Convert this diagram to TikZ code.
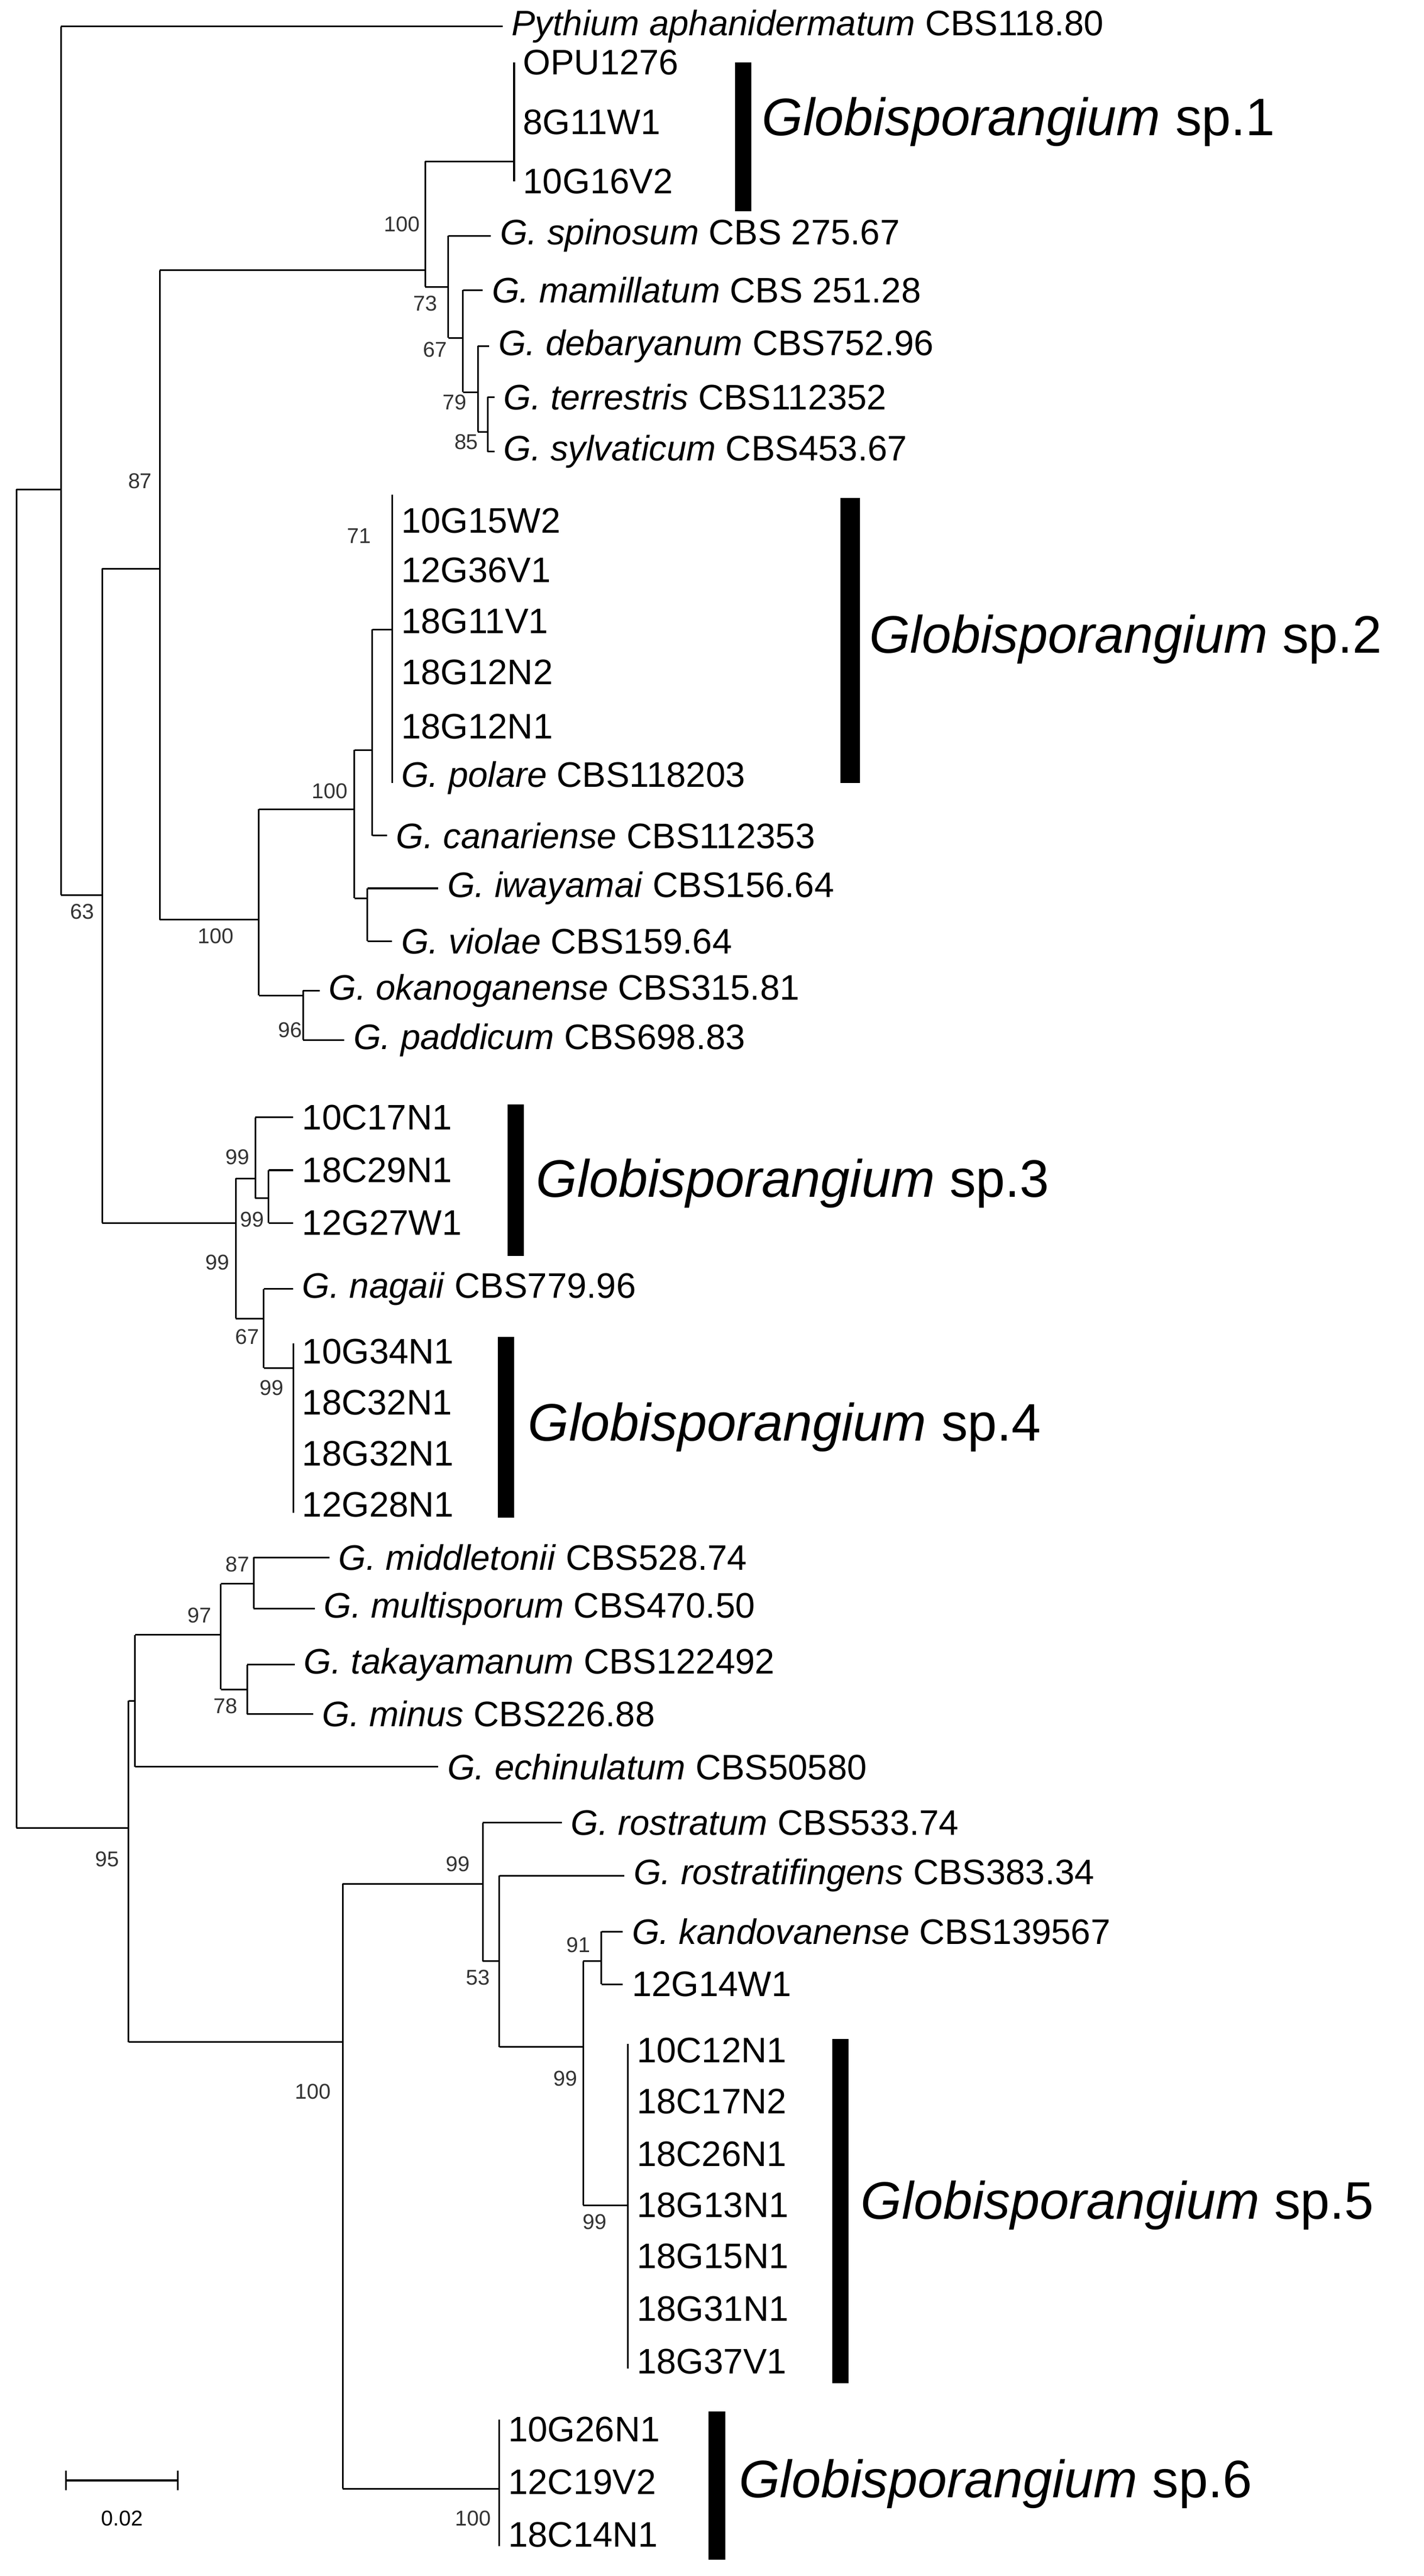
\documentclass[tikz,border=0pt]{standalone}
\usepackage{fontspec}
\setmainfont{Liberation Sans}
\begin{document}
\begin{tikzpicture}[x=1pt,y=-1pt,line width=1pt,
  leaf/.style={anchor=west,inner sep=0pt,inner xsep=5pt,font=\fontsize{21.5}{21.5}\selectfont},
  bs/.style={inner sep=0pt,font=\fontsize{13}{13}\selectfont,text=black!80},
  grp/.style={anchor=west,inner sep=0pt,font=\fontsize{32}{32}\selectfont}]
\useasboundingbox (0,0) rectangle (864,1563);
\newcommand\lf[4]{\node[leaf] (#1) at (#2,#3) {#4};}
\newcommand\vl[3]{\draw (#1,#2) -- (#1,#3);}
\newcommand\hl[3]{\draw (#1,#3) -- (#2,#3);}
% root
\vl{10}{297}{1109}
\hl{10}{37}{297}
\vl{37}{16}{543}
\lf{py}{305}{16}{\textit{Pythium aphanidermatum} CBS118.80}
\draw (37,16) -- (py.west);
\hl{37}{62}{543} \node[bs] at (50,553) {63};
\vl{62}{345}{742} \node[bs] at (85,292) {87};
\hl{62}{97}{345}
\vl{97}{164}{558}
% F clade
\hl{97}{258}{164} \vl{258}{98}{174}
\node[bs] at (244,136) {100}; \node[bs] at (258,184) {73};
\hl{258}{312}{98} \vl{312}{38}{110}
\lf{a1}{312}{38}{OPU1276}\lf{a2}{312}{74}{8G11W1}\lf{a3}{312}{110}{10G16V2}
\hl{258}{272}{174} \vl{272}{143}{205}
\lf{spi}{298}{143}{\textit{G. spinosum} CBS 275.67} \draw (272,143) -- (spi.west);
\node[bs] at (264,212) {67};
\hl{272}{281}{205} \vl{281}{176}{238}
\lf{mam}{293}{176}{\textit{G. mamillatum} CBS 251.28} \draw (281,176) -- (mam.west);
\node[bs] at (276,244) {79};
\hl{281}{290}{238} \vl{290}{210}{262}
\lf{deb}{297}{210}{\textit{G. debaryanum} CBS752.96} \draw (290,210) -- (deb.west);
\hl{290}{296}{262} \vl{296}{241}{274}
\node[bs] at (283,268) {85};
\lf{ter}{300}{241}{\textit{G. terrestris} CBS112352}\lf{syl}{300}{274}{\textit{G. sylvaticum} CBS453.67}
\draw (296,241) -- (ter.west); \draw (296,274) -- (syl.west);
% G clade
\hl{97}{157}{558} \vl{157}{491}{604} \node[bs] at (131,568) {100};
\hl{157}{215}{491} \vl{215}{455}{545} \node[bs] at (200,480) {100};
\hl{215}{226}{455} \vl{226}{382}{507} \node[bs] at (218,325) {71};
\hl{226}{238}{382} \vl{238}{300}{475}
\lf{b1}{238}{316}{10G15W2}\lf{b2}{238}{346}{12G36V1}\lf{b3}{238}{377}{18G11V1}
\lf{b4}{238}{408}{18G12N2}\lf{b5}{238}{441}{18G12N1}\lf{b6}{238}{472}{\textit{G. polare} CBS118203}
\lf{can}{235}{507}{\textit{G. canariense} CBS112353} \draw (226,507) -- (can.west);
\hl{215}{223}{545} \vl{223}{539}{571}
\lf{iwa}{266}{539}{\textit{G. iwayamai} CBS156.64} \draw (223,539) -- (iwa.west);
\lf{vio}{238}{571}{\textit{G. violae} CBS159.64} \draw (223,571) -- (vio.west);
\hl{157}{184}{604} \vl{184}{601}{631} \node[bs] at (176,625) {96};
\lf{oka}{194}{601}{\textit{G. okanoganense} CBS315.81} \draw (184,601) -- (oka.west);
\lf{pad}{209}{631}{\textit{G. paddicum} CBS698.83} \draw (184,631) -- (pad.west);
% sp3/sp4
\hl{62}{143}{742} \vl{143}{715}{800} \node[bs] at (132,766) {99};
\hl{143}{155}{715} \vl{155}{678}{727} \node[bs] at (144,702) {99};
\lf{c1}{178}{678}{10C17N1} \draw (155,678) -- (c1.west);
\hl{155}{163}{727} \vl{163}{710}{742} \node[bs] at (153,740) {99};
\lf{c2}{178}{710}{18C29N1}\lf{c3}{178}{742}{12G27W1}
\draw (163,710) -- (c2.west); \draw (163,742) -- (c3.west);
\hl{143}{160}{800} \vl{160}{782}{830} \node[bs] at (150,811) {67};
\lf{nag}{178}{782}{\textit{G. nagaii} CBS779.96} \draw (160,782) -- (nag.west);
\hl{160}{178}{830} \vl{178}{815}{918} \node[bs] at (165,842) {99};
\lf{d1}{178}{820}{10G34N1}\lf{d2}{178}{851}{18C32N1}\lf{d3}{178}{882}{18G32N1}\lf{d4}{178}{913}{12G28N1}
% lower clade
\hl{10}{78}{1109} \node[bs] at (65,1128) {95};
\vl{78}{1032}{1239}
\hl{78}{82}{1032} \vl{82}{992}{1072}
\lf{ech}{266}{1072}{\textit{G. echinulatum} CBS50580} \draw (82,1072) -- (ech.west);
\hl{82}{134}{992} \vl{134}{961}{1025} \node[bs] at (121,980) {97};
\hl{134}{154}{961} \vl{154}{945}{976} \node[bs] at (144,949) {87};
\lf{mid}{200}{945}{\textit{G. middletonii} CBS528.74} \draw (154,945) -- (mid.west);
\lf{mul}{191}{976}{\textit{G. multisporum} CBS470.50} \draw (154,976) -- (mul.west);
\hl{134}{150}{1025} \vl{150}{1010}{1040} \node[bs] at (137,1035) {78};
\lf{tak}{179}{1010}{\textit{G. takayamanum} CBS122492} \draw (150,1010) -- (tak.west);
\lf{min}{190}{1040}{\textit{G. minus} CBS226.88} \draw (150,1040) -- (min.west);
\hl{78}{208}{1239} \vl{208}{1143}{1510} \node[bs] at (190,1269) {100};
\hl{208}{293}{1143} \vl{293}{1106}{1190} \node[bs] at (278,1131) {99};
\node[bs] at (290,1200) {53};
\lf{ros}{341}{1106}{\textit{G. rostratum} CBS533.74} \draw (293,1106) -- (ros.west);
\hl{293}{303}{1190} \vl{303}{1138}{1242}
\lf{rof}{379}{1138}{\textit{G. rostratifingens} CBS383.34} \draw (303,1138) -- (rof.west);
\hl{303}{354}{1242} \vl{354}{1190}{1338} \node[bs] at (343,1261) {99};
\hl{354}{365}{1190} \vl{365}{1172}{1204} \node[bs] at (351,1180) {91};
\lf{kan}{378}{1172}{\textit{G. kandovanense} CBS139567} \draw (365,1172) -- (kan.west);
\lf{w12}{378}{1204}{12G14W1} \draw (365,1204) -- (w12.west);
\hl{354}{381}{1338} \vl{381}{1240}{1437} \node[bs] at (361,1348) {99};
\lf{e1}{381}{1244}{10C12N1}\lf{e2}{381}{1275}{18C17N2}\lf{e3}{381}{1307}{18C26N1}
\lf{e4}{381}{1338}{18G13N1}\lf{e5}{381}{1369}{18G15N1}\lf{e6}{381}{1401}{18G31N1}\lf{e7}{381}{1433}{18G37V1}
\hl{208}{303}{1510} \vl{303}{1468}{1545} \node[bs] at (287,1528) {100};
\lf{f1}{303}{1474}{10G26N1}\lf{f2}{303}{1506}{12C19V2}\lf{f3}{303}{1538}{18C14N1}
% bars and group labels
\fill (446,38) rectangle (456,128); \node[grp] at (462,74) {\textit{Globisporangium} sp.1};
\fill (510,302) rectangle (522,475); \node[grp] at (527,388) {\textit{Globisporangium} sp.2};
\fill (308,670) rectangle (318,762); \node[grp] at (325,718) {\textit{Globisporangium} sp.3};
\fill (302,811) rectangle (312,921); \node[grp] at (320,866) {\textit{Globisporangium} sp.4};
\fill (505,1237) rectangle (515,1446); \node[grp] at (522,1338) {\textit{Globisporangium} sp.5};
\fill (430,1463) rectangle (440,1553); \node[grp] at (448,1507) {\textit{Globisporangium} sp.6};
% scale bar
\draw (40,1505) -- (108,1505); \draw (40,1499) -- (40,1511); \draw (108,1499) -- (108,1511);
\node[bs,text=black] at (74,1528) {0.02};
\end{tikzpicture}
\end{document}
